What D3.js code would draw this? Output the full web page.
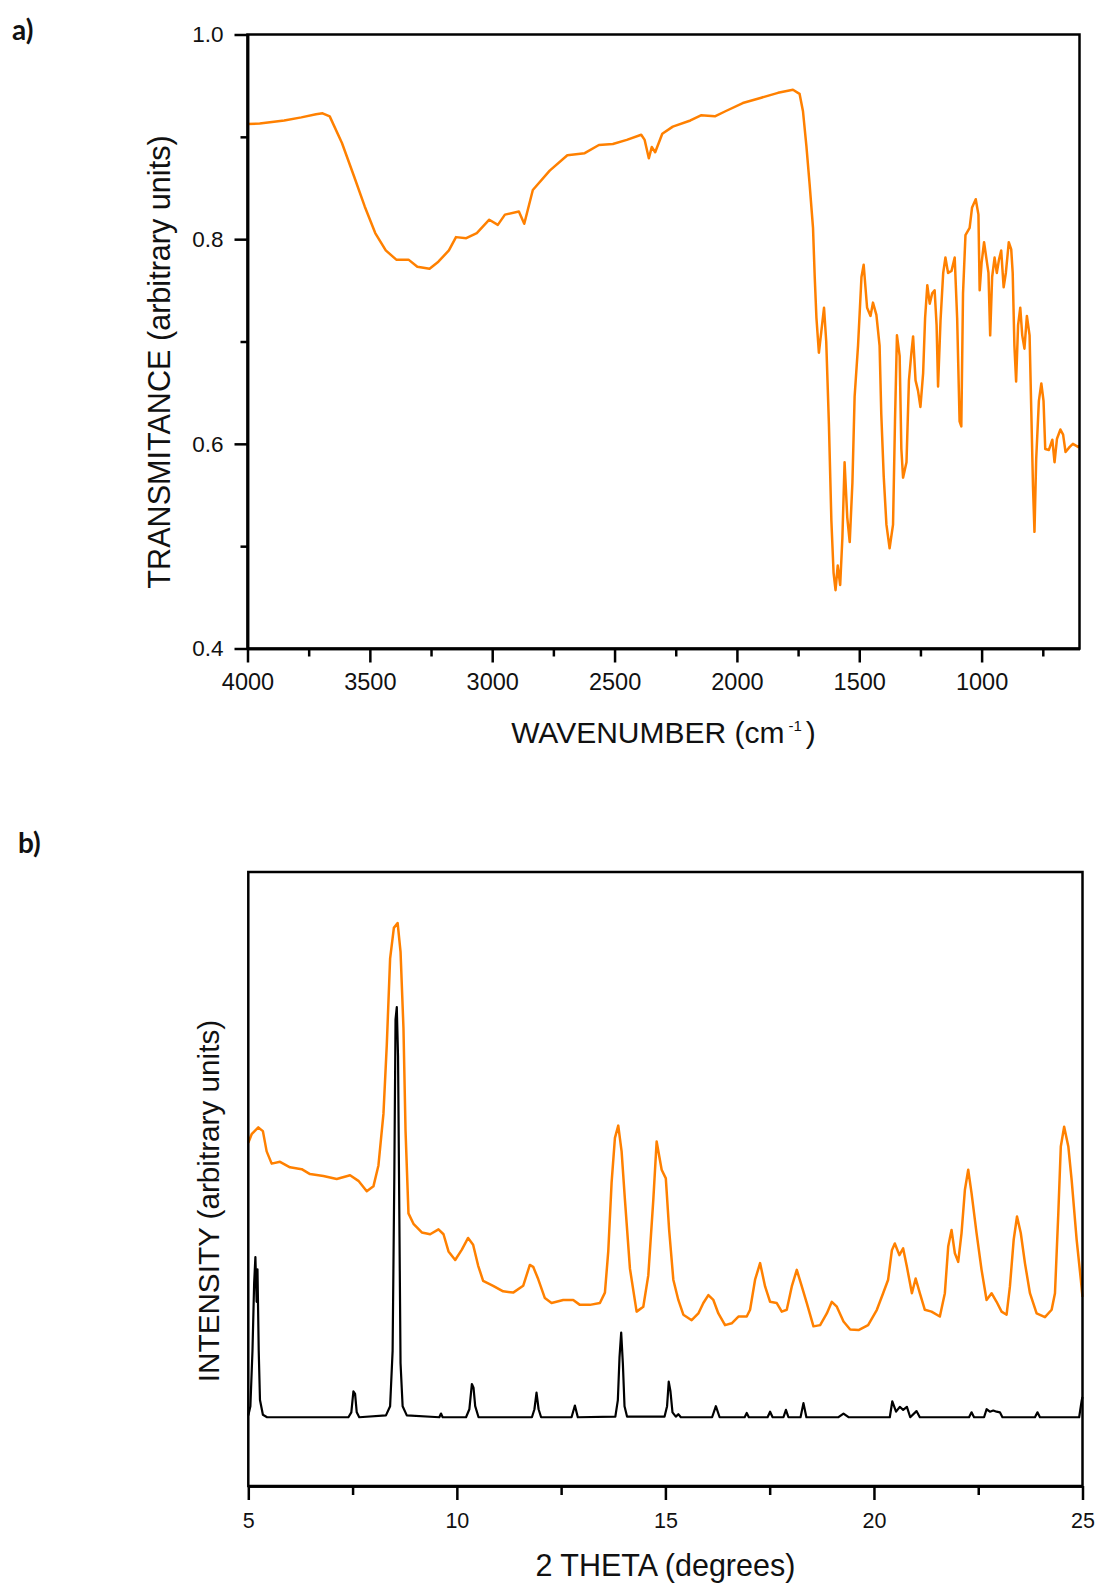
<!DOCTYPE html>
<html>
<head>
<meta charset="utf-8">
<script src="https://cdn.jsdelivr.net/npm/d3@7"></script>
<style>
body { margin: 0; background: #fff; }
svg { display: block; }
text { font-family: Arial, "Liberation Sans", sans-serif; fill: #111; }
</style>
</head>
<body>
<svg id="chart"></svg>
<script>
// ---- panel a: IR spectrum (wavenumber, transmittance) ----
var irWavenumber = [4000, 3950, 3850, 3780, 3720, 3693, 3664, 3614, 3564, 3521, 3478, 3435, 3392, 3342, 3306, 3256, 3220, 3177, 3148, 3106, 3063, 3012, 2977, 2948, 2891, 2869, 2834, 2765, 2693, 2622, 2564, 2507, 2450, 2391, 2377, 2360, 2348, 2334, 2305, 2262, 2190, 2147, 2090, 2047, 1976, 1904, 1832, 1771, 1744, 1730, 1716, 1703, 1689, 1682, 1675, 1665, 1655, 1644, 1635, 1624, 1614, 1605, 1597, 1588, 1578, 1569, 1560, 1549, 1539, 1528, 1519, 1505, 1491, 1482, 1468, 1454, 1444, 1430, 1417, 1410, 1400, 1389, 1376, 1362, 1354, 1346, 1335, 1328, 1321, 1307, 1297, 1287, 1280, 1270, 1260, 1250, 1239, 1231, 1222, 1212, 1202, 1192, 1184, 1178, 1168, 1157, 1148, 1137, 1123, 1110, 1100, 1090, 1083, 1076, 1066, 1049, 1039, 1024, 1013, 1008, 1000, 990, 981, 972, 965, 957, 947, 938, 929, 920, 910, 901, 889, 879, 873, 866, 859, 851, 842, 834, 825, 815, 804, 797, 790, 784, 777, 766, 756, 747, 740, 725, 711, 702, 692, 678, 667, 657, 640, 627, 606, 600];
var irTransmittance = [0.9125, 0.913, 0.916, 0.919, 0.922, 0.923, 0.920, 0.894, 0.861, 0.832, 0.806, 0.789, 0.780, 0.780, 0.773, 0.771, 0.778, 0.789, 0.802, 0.801, 0.806, 0.819, 0.814, 0.824, 0.827, 0.815, 0.848, 0.867, 0.882, 0.884, 0.892, 0.893, 0.897, 0.902, 0.897, 0.879, 0.890, 0.885, 0.903, 0.910, 0.916, 0.921, 0.920, 0.925, 0.933, 0.938, 0.943, 0.946, 0.942, 0.925, 0.891, 0.854, 0.811, 0.763, 0.723, 0.689, 0.710, 0.733, 0.700, 0.619, 0.525, 0.474, 0.457, 0.481, 0.462, 0.508, 0.582, 0.528, 0.504, 0.562, 0.646, 0.696, 0.763, 0.775, 0.733, 0.725, 0.738, 0.726, 0.696, 0.629, 0.568, 0.521, 0.498, 0.521, 0.622, 0.706, 0.686, 0.595, 0.567, 0.582, 0.662, 0.689, 0.705, 0.662, 0.652, 0.636, 0.669, 0.723, 0.755, 0.737, 0.747, 0.750, 0.716, 0.656, 0.720, 0.767, 0.782, 0.767, 0.769, 0.782, 0.723, 0.622, 0.617, 0.747, 0.804, 0.811, 0.831, 0.839, 0.824, 0.750, 0.777, 0.797, 0.782, 0.767, 0.706, 0.763, 0.782, 0.767, 0.780, 0.789, 0.753, 0.767, 0.797, 0.790, 0.767, 0.696, 0.661, 0.716, 0.733, 0.706, 0.693, 0.725, 0.706, 0.632, 0.558, 0.514, 0.585, 0.642, 0.659, 0.642, 0.595, 0.594, 0.604, 0.582, 0.605, 0.614, 0.609, 0.592, 0.597, 0.600, 0.597, 0.598];
var irXTicks = [4000, 3500, 3000, 2500, 2000, 1500, 1000];
var irXMinor = [3750, 3250, 2750, 2250, 1750, 1250, 750];
var irYTicks = [0.4, 0.6, 0.8, 1.0];
var irYMinor = [0.5, 0.7, 0.9];

// ---- panel b: XRD patterns (2 theta, intensity in arbitrary units) ----
var sampleAngle = [5.00, 5.08, 5.24, 5.35, 5.44, 5.56, 5.76, 6.00, 6.28, 6.48, 6.80, 7.12, 7.44, 7.64, 7.84, 8.00, 8.12, 8.24, 8.32, 8.40, 8.49, 8.58, 8.65, 8.72, 8.77, 8.84, 8.96, 9.16, 9.36, 9.56, 9.68, 9.80, 9.96, 10.12, 10.27, 10.39, 10.51, 10.63, 10.87, 11.11, 11.35, 11.59, 11.75, 11.83, 11.95, 12.11, 12.27, 12.55, 12.79, 12.95, 13.19, 13.43, 13.55, 13.63, 13.71, 13.79, 13.87, 13.95, 14.03, 14.15, 14.31, 14.47, 14.59, 14.71, 14.79, 14.91, 15.01, 15.09, 15.19, 15.31, 15.43, 15.63, 15.79, 15.91, 16.03, 16.15, 16.27, 16.43, 16.59, 16.75, 16.95, 17.03, 17.15, 17.27, 17.39, 17.51, 17.67, 17.79, 17.91, 18.03, 18.15, 18.27, 18.39, 18.55, 18.71, 18.87, 18.99, 19.11, 19.27, 19.43, 19.63, 19.86, 20.07, 20.22, 20.34, 20.43, 20.50, 20.61, 20.70, 20.79, 20.91, 21.00, 21.10, 21.22, 21.38, 21.58, 21.70, 21.78, 21.86, 21.94, 22.02, 22.10, 22.18, 22.26, 22.34, 22.46, 22.58, 22.70, 22.82, 22.94, 23.06, 23.18, 23.26, 23.35, 23.43, 23.52, 23.62, 23.74, 23.90, 24.10, 24.26, 24.34, 24.42, 24.48, 24.56, 24.66, 24.74, 24.86, 24.96, 25.00];
var sampleIntensity = [55.9, 57.3, 58.4, 57.8, 54.5, 52.5, 52.8, 51.9, 51.6, 50.8, 50.5, 50.0, 50.6, 49.7, 48.0, 48.8, 52.2, 60.6, 71.8, 85.9, 90.9, 91.7, 87.0, 74.6, 57.8, 44.4, 42.7, 41.3, 41.0, 41.8, 41.0, 38.2, 36.8, 38.5, 40.4, 39.3, 35.9, 33.4, 32.6, 31.7, 31.5, 32.6, 36.0, 35.7, 33.7, 30.6, 29.8, 30.3, 30.3, 29.5, 29.5, 29.8, 31.5, 38.2, 49.4, 56.7, 58.7, 54.5, 46.6, 35.4, 28.4, 29.2, 34.3, 46.6, 56.1, 51.5, 50.1, 41.7, 33.6, 30.3, 27.9, 27.0, 28.1, 29.8, 31.1, 30.3, 28.1, 26.2, 26.5, 27.6, 27.6, 28.7, 33.6, 36.3, 32.5, 30.0, 29.8, 28.4, 28.7, 32.5, 35.2, 32.5, 29.8, 26.0, 26.2, 28.1, 30.0, 29.2, 26.8, 25.5, 25.4, 26.2, 28.7, 31.4, 33.6, 38.4, 39.5, 37.6, 38.7, 35.7, 31.4, 33.8, 31.4, 28.7, 28.4, 27.6, 31.4, 39.0, 41.7, 37.9, 36.5, 41.2, 48.2, 51.5, 47.7, 41.2, 35.2, 30.3, 31.4, 30.0, 28.4, 27.9, 32.5, 40.1, 43.9, 41.2, 36.3, 31.4, 28.1, 27.5, 28.7, 31.4, 44.4, 55.3, 58.5, 55.3, 49.8, 40.1, 33.6, 30.8];

var simAngle = [5.00, 5.05, 5.10, 5.14, 5.17, 5.20, 5.22, 5.25, 5.28, 5.35, 5.45, 7.40, 7.47, 7.52, 7.56, 7.60, 7.66, 8.30, 8.40, 8.46, 8.50, 8.53, 8.56, 8.59, 8.62, 8.65, 8.70, 8.80, 9.58, 9.62, 9.66, 10.22, 10.30, 10.36, 10.40, 10.44, 10.52, 11.80, 11.86, 11.91, 11.96, 12.02, 12.75, 12.83, 12.90, 13.80, 13.86, 13.90, 13.94, 13.98, 14.02, 14.08, 14.98, 15.04, 15.08, 15.12, 15.17, 15.25, 15.31, 15.37, 16.12, 16.21, 16.30, 16.90, 16.95, 17.00, 17.45, 17.51, 17.57, 17.83, 17.89, 17.95, 18.24, 18.31, 18.38, 19.15, 19.27, 19.39, 20.38, 20.44, 20.53, 20.62, 20.70, 20.79, 20.87, 21.02, 21.10, 22.28, 22.34, 22.40, 22.64, 22.70, 22.78, 22.86, 22.94, 23.02, 23.08, 23.86, 23.92, 23.98, 24.92, 24.98, 25.00];
var simIntensity = [11.5, 13.0, 22.0, 33.0, 37.3, 30.0, 35.3, 22.0, 14.0, 11.6, 11.2, 11.2, 12.0, 15.4, 15.0, 12.0, 11.2, 11.5, 13.0, 22.0, 50.0, 76.0, 78.0, 70.0, 45.0, 20.0, 13.0, 11.5, 11.2, 11.8, 11.2, 11.2, 12.5, 16.6, 16.0, 13.0, 11.2, 11.2, 12.5, 15.2, 12.5, 11.2, 11.2, 13.1, 11.2, 11.3, 14.0, 21.0, 25.0, 20.0, 13.0, 11.3, 11.3, 13.0, 17.0, 15.5, 12.0, 11.3, 11.7, 11.2, 11.2, 13.0, 11.2, 11.2, 11.9, 11.2, 11.2, 12.1, 11.2, 11.2, 12.4, 11.2, 11.2, 13.5, 11.2, 11.2, 11.8, 11.2, 11.2, 13.8, 12.1, 12.9, 12.4, 12.9, 11.2, 12.2, 11.2, 11.2, 12.0, 11.2, 11.2, 12.5, 12.1, 12.3, 12.1, 12.0, 11.2, 11.2, 12.0, 11.2, 11.2, 13.9, 14.5];
var xrdTicks = [5, 10, 15, 20, 25];
var xrdMinor = [7.5, 12.5, 17.5, 22.5];

var svg = d3.select("#chart")
    .attr("width", 1101)
    .attr("height", 1587);

// frame boxes for both panels
var frameA = {left: 247.5, right: 1079.5, top: 34.5, bottom: 648.5};
var frameB = {left: 248.3, right: 1082.5, top: 872, bottom: 1486};

var orange = "#ff8000";

var setupIR = function()
{
    var xScale = d3.scaleLinear()
        .domain([4000, 600])
        .range([frameA.left, frameA.right]);
    var yScale = d3.scaleLinear()
        .domain([0.4, 1.0])
        .range([frameA.bottom, frameA.top]);

    var g = svg.append("g").attr("id", "panelA");

    var points = irWavenumber.map(function(w, i) { return [w, irTransmittance[i]]; });

    g.append("path")
        .datum(points)
        .attr("fill", "none")
        .attr("stroke", orange)
        .attr("stroke-width", 2.5)
        .attr("stroke-linejoin", "round")
        .attr("d", d3.line()
            .x(function(d) { return xScale(d[0]); })
            .y(function(d) { return yScale(d[1]); }));

    // x axis, major + minor
    g.append("g")
        .attr("class", "axis")
        .attr("transform", "translate(0," + frameA.bottom + ")")
        .call(d3.axisBottom(xScale).tickValues(irXTicks).tickSize(14).tickSizeOuter(0).tickPadding(11)
            .tickFormat(d3.format("d")))
        .call(styleAxis, 23.5);
    g.append("g")
        .attr("class", "axis")
        .attr("transform", "translate(0," + frameA.bottom + ")")
        .call(d3.axisBottom(xScale).tickValues(irXMinor).tickSize(8).tickSizeOuter(0).tickFormat(""))
        .call(styleAxis, 23.5);

    // y axis
    g.append("g")
        .attr("class", "axis")
        .attr("transform", "translate(" + frameA.left + ",0)")
        .call(d3.axisLeft(yScale).tickValues(irYTicks).tickSize(13).tickSizeOuter(0).tickPadding(11)
            .tickFormat(d3.format(".1f")))
        .call(styleAxis, 22.5);
    g.append("g")
        .attr("class", "axis")
        .attr("transform", "translate(" + frameA.left + ",0)")
        .call(d3.axisLeft(yScale).tickValues(irYMinor).tickSize(7).tickSizeOuter(0).tickFormat(""))
        .call(styleAxis, 22.5);

    drawFrame(g, frameA);

    // titles
    var xt = g.append("text")
        .attr("x", (frameA.left + frameA.right) / 2)
        .attr("y", 743)
        .attr("text-anchor", "middle")
        .style("font-size", "30px")
        .text("WAVENUMBER (cm");
    xt.append("tspan")
        .attr("dx", 4)
        .attr("dy", -12)
        .style("font-size", "15px")
        .text("-1");
    xt.append("tspan")
        .attr("dx", 4)
        .attr("dy", 12)
        .text(")");

    g.append("text")
        .attr("transform", "translate(170,362) rotate(-90)")
        .attr("text-anchor", "middle")
        .style("font-size", "30.6px")
        .text("TRANSMITANCE (arbitrary units)");
}

var setupXRD = function()
{
    var xScale = d3.scaleLinear()
        .domain([5, 25])
        .range([frameB.left, frameB.right]);
    var yScale = d3.scaleLinear()
        .domain([0, 100])
        .range([frameB.bottom, frameB.top]);

    var g = svg.append("g").attr("id", "panelB");

    var line = d3.line()
        .x(function(d) { return xScale(d[0]); })
        .y(function(d) { return yScale(d[1]); });

    var sample = sampleAngle.map(function(a, i) { return [a, sampleIntensity[i]]; });
    var sim = simAngle.map(function(a, i) { return [a, simIntensity[i]]; });

    g.append("path")
        .datum(sim)
        .attr("fill", "none")
        .attr("stroke", "#000")
        .attr("stroke-width", 2.2)
        .attr("stroke-linejoin", "round")
        .attr("d", line);

    g.append("path")
        .datum(sample)
        .attr("fill", "none")
        .attr("stroke", orange)
        .attr("stroke-width", 2.5)
        .attr("stroke-linejoin", "round")
        .attr("d", line);

    g.append("g")
        .attr("class", "axis")
        .attr("transform", "translate(0," + frameB.bottom + ")")
        .call(d3.axisBottom(xScale).tickValues(xrdTicks).tickSize(14).tickSizeOuter(0).tickPadding(12.7)
            .tickFormat(d3.format("d")))
        .call(styleAxis, 21.5);
    g.append("g")
        .attr("class", "axis")
        .attr("transform", "translate(0," + frameB.bottom + ")")
        .call(d3.axisBottom(xScale).tickValues(xrdMinor).tickSize(9).tickSizeOuter(0).tickFormat(""))
        .call(styleAxis, 21.5);

    drawFrame(g, frameB);

    g.append("text")
        .attr("x", (frameB.left + frameB.right) / 2)
        .attr("y", 1576)
        .attr("text-anchor", "middle")
        .style("font-size", "30.5px")
        .text("2 THETA (degrees)");

    g.append("text")
        .attr("transform", "translate(219,1201) rotate(-90)")
        .attr("text-anchor", "middle")
        .style("font-size", "29.7px")
        .text("INTENSITY (arbitrary units)");
}

var styleAxis = function(sel, size)
{
    sel.select(".domain").attr("stroke", "#000").attr("stroke-width", 2.5);
    sel.selectAll(".tick line").attr("stroke", "#000").attr("stroke-width", 2.5);
    sel.selectAll(".tick text")
        .attr("fill", "#111")
        .style("font-size", size + "px")
        .style("font-family", "Arial, 'Liberation Sans', sans-serif");
}

var drawFrame = function(g, f)
{
    g.append("rect")
        .attr("x", f.left)
        .attr("y", f.top)
        .attr("width", f.right - f.left)
        .attr("height", f.bottom - f.top)
        .attr("fill", "none")
        .attr("stroke", "#000")
        .attr("stroke-width", 2.5);
}

// panel letters
svg.append("text")
    .attr("x", 12)
    .attr("y", 40)
    .style("font-family", "Lato, 'Open Sans', sans-serif")
    .style("font-weight", "bold")
    .style("font-size", "28px")
    .text("a)");
svg.append("text")
    .attr("x", 18)
    .attr("y", 853)
    .style("font-family", "Lato, 'Open Sans', sans-serif")
    .style("font-weight", "bold")
    .style("font-size", "28px")
    .text("b)");

setupIR();
setupXRD();
</script>
</body>
</html>
